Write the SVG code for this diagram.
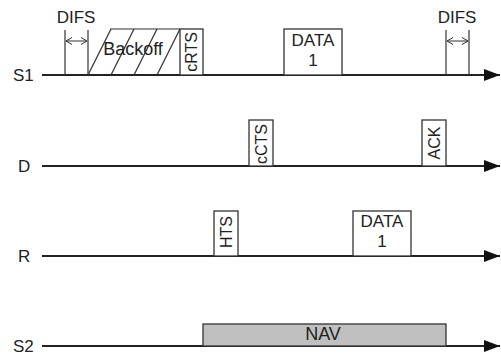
<svg xmlns="http://www.w3.org/2000/svg" width="501" height="357" viewBox="0 0 501 357">
<style>
text{font-family:"Liberation Sans",Arial,sans-serif;fill:#222}
.lbl{font-size:17px}
.big{font-size:18px;text-anchor:middle}
.dat{font-size:17px;text-anchor:middle}
.rot{font-size:16px;text-anchor:middle}
.box{fill:#fff;stroke:#333;stroke-width:1.3}
.nav{fill:#c0c0c0;stroke:#333;stroke-width:1.3}
.tl{stroke:#222;stroke-width:2;fill:none}
.thin{stroke:#333;stroke-width:1.2;fill:none}
.dim{stroke:#333;stroke-width:1;fill:none}
</style>
<defs>
<marker id="ah" markerWidth="16" markerHeight="12" refX="16" refY="6" orient="auto" markerUnits="userSpaceOnUse">
<path d="M0,0 L16,6 L0,12 Z" fill="#111"/>
</marker>
<marker id="oa" markerWidth="6" markerHeight="8" refX="6" refY="4" orient="auto-start-reverse" markerUnits="userSpaceOnUse">
<path d="M0,0.5 L6,4 L0,7.5" fill="none" stroke="#333" stroke-width="1"/>
</marker>
</defs>
<g id="connectors">
<line class="tl" x1="42" y1="75" x2="500" y2="75" marker-end="url(#ah)"/>
<line class="tl" x1="42" y1="166" x2="500" y2="166" marker-end="url(#ah)"/>
<line class="tl" x1="42" y1="256" x2="500" y2="256" marker-end="url(#ah)"/>
<line class="tl" x1="42" y1="346" x2="500" y2="346" marker-end="url(#ah)"/>
</g>
<g id="labels">
<text class="lbl" x="13" y="81">S1</text>
<text class="lbl" x="18" y="172">D</text>
<text class="lbl" x="18" y="262">R</text>
<text class="lbl" x="13" y="352">S2</text>
</g>
<g id="difs1">
<line class="thin" x1="65" y1="30" x2="65" y2="75"/>
<line class="thin" x1="88" y1="30" x2="88" y2="75"/>
<line class="dim" x1="66" y1="41" x2="87" y2="41" marker-start="url(#oa)" marker-end="url(#oa)"/>
<text class="dat" x="76" y="23">DIFS</text>
</g>
<g id="backoff">
<line class="thin" x1="110" y1="29" x2="180" y2="29"/>
<line class="thin" x1="88" y1="75" x2="111" y2="29"/>
<line class="thin" x1="111" y1="75" x2="134" y2="29"/>
<line class="thin" x1="134" y1="75" x2="157" y2="29"/>
<line class="thin" x1="157" y1="75" x2="180" y2="29"/>
<text class="big" x="133" y="55">Backoff</text>
</g>
<g id="crts">
<rect class="box" x="180" y="29" width="23" height="46"/>
<text class="rot" transform="translate(197,52) rotate(-90)">cRTS</text>
</g>
<g id="data1-s1">
<rect class="box" x="284" y="29" width="58" height="46"/>
<text class="dat" x="313" y="46">DATA</text>
<text class="dat" x="313" y="65.5">1</text>
</g>
<g id="difs2">
<line class="thin" x1="446" y1="30" x2="446" y2="75"/>
<line class="thin" x1="469" y1="30" x2="469" y2="75"/>
<line class="dim" x1="447" y1="41" x2="468" y2="41" marker-start="url(#oa)" marker-end="url(#oa)"/>
<text class="dat" x="457" y="23">DIFS</text>
</g>
<g id="ccts">
<rect class="box" x="249" y="120" width="24" height="46"/>
<text class="rot" transform="translate(267,144) rotate(-90)">cCTS</text>
</g>
<g id="ack">
<rect class="box" x="422" y="120" width="24" height="46"/>
<text class="rot" transform="translate(440,143) rotate(-90)">ACK</text>
</g>
<g id="hts">
<rect class="box" x="214" y="211" width="24" height="45"/>
<text class="rot" transform="translate(232,232) rotate(-90)">HTS</text>
</g>
<g id="data1-r">
<rect class="box" x="353" y="211" width="58" height="45"/>
<text class="dat" x="382" y="227">DATA</text>
<text class="dat" x="382" y="246.5">1</text>
</g>
<g id="nav">
<rect class="nav" x="203" y="324" width="243" height="22"/>
<text class="big" x="323" y="340">NAV</text>
</g>
</svg>
